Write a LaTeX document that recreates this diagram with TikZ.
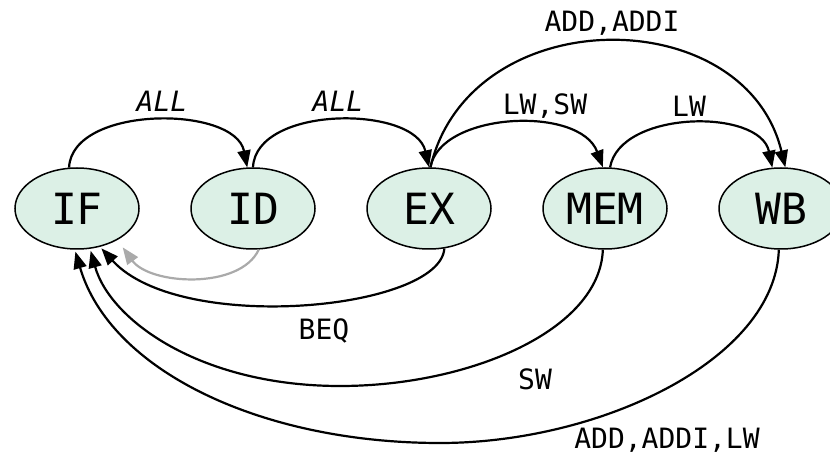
\documentclass[tikz,border=0pt]{standalone}
\usepackage{fontspec}
\setmonofont{DejaVu Sans Mono}[ItalicFont={DejaVu Sans Mono Oblique}]
\usetikzlibrary{arrows.meta,shapes.geometric}
\definecolor{stagefill}{RGB}{220,240,230}
\definecolor{backgray}{RGB}{170,170,170}
\tikzset{
  stage/.style={ellipse, draw=black, line width=1.5pt, fill=stagefill,
    minimum width=124pt, minimum height=81pt, inner sep=0pt,
    font=\ttfamily\fontsize{43}{50}\selectfont},
  lbl/.style={anchor=base, inner sep=0pt, font=\ttfamily\fontsize{28}{34}\selectfont},
  flow/.style={line width=2.2pt, -{Triangle[length=17pt,width=13pt]}},
  back/.style={flow, draw=backgray, -{Triangle[length=17pt,width=13pt,fill=backgray]}}
}
\begin{document}
\begin{tikzpicture}[x=1pt,y=-1pt]
\useasboundingbox (0,0) rectangle (830,454);
\node[stage] (IF)  at (77,208.5)  {IF};
\node[stage] (ID)  at (253,208.5) {ID};
\node[stage] (EX)  at (429,208.5) {EX};
\node[stage] (MEM) at (605,208.5) {MEM};
\node[stage] (WB)  at (781,208.5) {WB};

% forward edges
\draw[flow] (IF.101) .. controls (72,105) and (235,105) .. (ID.98.5);
\draw[flow] (ID.north) .. controls (256,105) and (415,105) .. (EX.north);
\draw[flow] (EX.88) .. controls (440,112) and (580,105) .. (MEM.93);
\draw[flow] (EX.88) .. controls (470,0) and (745,0) .. (WB.84.3);
\draw[flow] (MEM.83) .. controls (620,110) and (760,108) .. (WB.102.7);

% backward edges
\draw[back, shorten >=9pt] (ID.278.5) .. controls (240,290) and (150,285) .. (IF.-38);
\draw[flow, shorten >=2pt] (EX.-69) .. controls (440,310) and (180,335) .. (IF.301.5);
\draw[flow, shorten >=2pt] (MEM.267) .. controls (600,330) and (470,386) .. (340,386)
   .. controls (200,386) and (110,320) .. (IF.288);
\draw[flow, shorten >=2pt] (WB.267) .. controls (775,360) and (600,443) .. (440,443)
   .. controls (260,443) and (110,370) .. (IF.267);

% labels
\node[lbl] (lall1) at (162,112) {\itshape ALL};
\node[lbl] (lall2) at (338,112) {\itshape ALL};
\node[lbl] (llwsw) at (545,115) {LW,SW};
\node[lbl] (llw)   at (689,117) {LW};
\node[lbl] (ladd)  at (612,32)  {ADD,ADDI};
\node[lbl] (lbeq)  at (324,340) {BEQ};
\node[lbl] (lsw)   at (535,389) {SW};
\node[lbl] (lall)  at (667,448) {ADD,ADDI,LW};
\end{tikzpicture}
\end{document}
